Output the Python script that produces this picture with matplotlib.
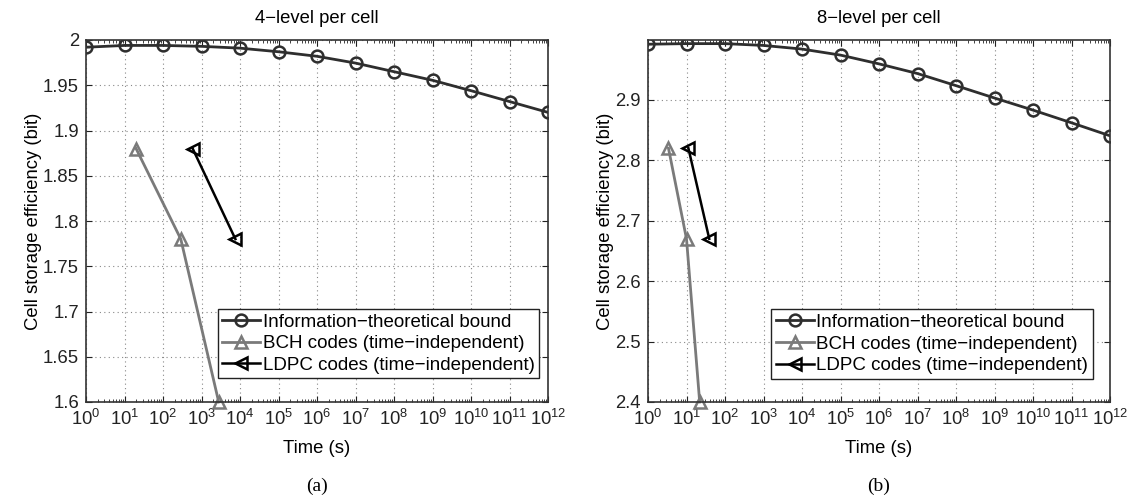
import matplotlib
matplotlib.use("Agg")
import matplotlib.pyplot as plt
from matplotlib.ticker import LogLocator, NullFormatter, FixedLocator
import numpy as np

plt.rcParams['font.family'] = ['Liberation Sans', 'DejaVu Sans']
plt.rcParams['mathtext.fontset'] = 'custom'
plt.rcParams['mathtext.rm'] = 'Liberation Sans'
plt.rcParams['mathtext.it'] = 'Liberation Sans'

time_exp = list(range(0, 13))
bound_4 = [1.992, 1.994, 1.994, 1.993, 1.991, 1.987, 1.982, 1.9745, 1.965, 1.9555, 1.944, 1.932, 1.920]
bch_4_t = [20, 290, 2800]
bch_4 = [1.88, 1.78, 1.60]
ldpc_4_t = [590, 7600]
ldpc_4 = [1.88, 1.78]

bound_8 = [2.992, 2.993, 2.993, 2.990, 2.984, 2.974, 2.9595, 2.9435, 2.9235, 2.903, 2.883, 2.862, 2.8405]
bch_8_t = [3.4, 10, 22]
bch_8 = [2.82, 2.67, 2.40]
ldpc_8_t = [11.2, 39]
ldpc_8 = [2.82, 2.67]

titles = ["4\u2212level per cell", "8\u2212level per cell"]
sublabels = ["(a)", "(b)"]
labels = ["Information\u2212theoretical bound", "BCH codes (time\u2212independent)",
          "LDPC codes (time\u2212independent)"]

fig = plt.figure(figsize=(11.36, 4.97), dpi=100)
ax1 = fig.add_axes([86/1136, 1-402/497, 462/1136, 362/497])
ax2 = fig.add_axes([648/1136, 1-402/497, 462/1136, 362/497])

c_bound = '#2e2e2e'
c_bch = '#7a7a7a'
c_ldpc = '#000000'
FS = 13.3

def draw(ax, bound, bch_t, bch, ldpc_t, ldpc, ylim, yticks, title, sub, legpos):
    t = [10.0**e for e in time_exp]
    ax.plot(t, bound, '-o', color=c_bound, lw=2.0, ms=8.5, mfc='none', mew=1.8, label=labels[0])
    ax.plot(bch_t, bch, '-^', color=c_bch, lw=2.0, ms=8.5, mfc='none', mew=1.8, label=labels[1], clip_on=False)
    ax.plot(ldpc_t, ldpc, '-<', color=c_ldpc, lw=1.8, ms=8.5, mfc='none', mew=1.8, label=labels[2])
    ax.set_xscale('log')
    ax.set_xlim(1, 1e12)
    ax.set_ylim(*ylim)
    ax.set_yticks(yticks)
    ax.set_yticklabels([('%g' % v) for v in yticks])
    ax.xaxis.set_major_locator(FixedLocator([10.0**e for e in time_exp]))
    ax.set_xticklabels([r'$10^{%d}$' % e for e in time_exp])
    ax.xaxis.set_minor_locator(LogLocator(base=10, subs=np.arange(2, 10), numticks=100))
    ax.xaxis.set_minor_formatter(NullFormatter())
    ax.tick_params(which='both', direction='in', top=True, right=True, labelsize=FS, colors='#222222')
    ax.tick_params(which='major', length=4, width=0.8, pad=5)
    ax.tick_params(which='minor', length=2, width=0.6)
    ax.grid(True, which='major', linestyle=(0, (1, 3)), color='#888888', lw=0.8)
    for s in ax.spines.values():
        s.set_color('#333333')
        s.set_linewidth(1.2)
    ax.set_title(title, fontsize=FS, pad=12)
    ax.set_xlabel('Time (s)', fontsize=FS, labelpad=8)
    ax.set_ylabel('Cell storage efficiency (bit)', fontsize=FS, labelpad=1)
    leg = ax.legend(loc='lower right', bbox_to_anchor=legpos, fontsize=13.5, frameon=True,
                    fancybox=False, edgecolor='#222222', framealpha=1, handlelength=2.0,
                    handletextpad=0.15, borderpad=0.25, labelspacing=0.24, borderaxespad=0)
    leg.get_frame().set_linewidth(1.0)
    ax.text(0.5, -0.21, sub, transform=ax.transAxes, ha='center', va='top',
            fontsize=14, family='Liberation Serif')

draw(ax1, bound_4, bch_4_t, bch_4, ldpc_4_t, ldpc_4, (1.6, 2.0),
     [1.6, 1.65, 1.7, 1.75, 1.8, 1.85, 1.9, 1.95, 2.0], titles[0], sublabels[0], (0.981, 0.065))
draw(ax2, bound_8, bch_8_t, bch_8, ldpc_8_t, ldpc_8, (2.4, 2.999),
     [2.4, 2.5, 2.6, 2.7, 2.8, 2.9], titles[1], sublabels[1], (0.963, 0.064))

fig.savefig('out.png', dpi=100)
